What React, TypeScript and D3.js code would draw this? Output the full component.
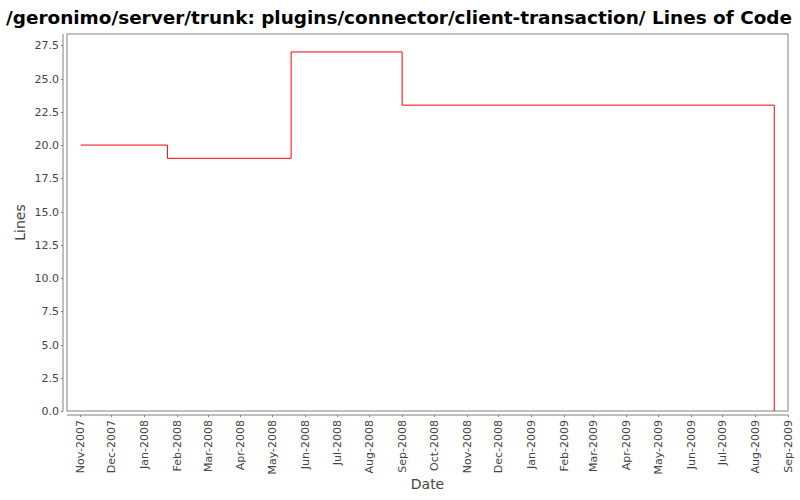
import React from 'react'
import * as d3 from 'd3'

// step points: date the value starts, lines of code
const stepDates = ['2007-11-02', '2008-01-23', '2008-05-19', '2008-09-01', '2009-08-19']
const stepValues = [20, 19, 27, 23, 0]
const yTicks = [0, 2.5, 5, 7.5, 10, 12.5, 15, 17.5, 20, 22.5, 25, 27.5]

const title = '/geronimo/server/trunk: plugins/connector/client-transaction/ Lines of Code'

const W = 800
const H = 500
const margin = { left: 67, top: 34, right: 12, bottom: 89 }

const App: React.FC = () => {
  const parse = d3.timeParse('%Y-%m-%d')
  const dates = stepDates.map(d => parse(d) as Date)
  const data = dates.map((d, i) => ({ date: d, value: stepValues[i] }))

  const x = d3.scaleTime()
    .domain([parse('2007-10-20') as Date, parse('2009-09-01') as Date])
    .range([margin.left, W - margin.right])
  const y = d3.scaleLinear()
    .domain([0, 28.35])
    .range([H - margin.bottom, margin.top])

  const line = d3.line<{ date: Date; value: number }>()
    .x(d => x(d.date))
    .y(d => y(d.value))
    .curve(d3.curveStepAfter)

  const months = d3.timeMonth.range(parse('2007-11-01') as Date, parse('2009-09-02') as Date)
  const fmt = d3.timeFormat('%b-%Y')

  const x0 = margin.left
  const x1 = W - margin.right
  const y0 = H - margin.bottom
  const y1 = margin.top
  const axisColor = '#808080'
  const font = '"DejaVu Sans", sans-serif'

  return (
    <svg width={W} height={H} style={{ position: 'absolute', left: 0, top: 0, background: '#fff' }}>
      <text x={6} y={24} fontFamily={font} fontWeight="bold" fontSize={18.4} fill="#000"
        textLength={786} lengthAdjust="spacingAndGlyphs">{title}</text>

      <rect x={x0} y={y1} width={x1 - x0} height={y0 - y1} fill="#fff" stroke={axisColor} strokeWidth={1} />

      {/* y axis */}
      <line x1={x0 - 4} x2={x0 - 4} y1={y1} y2={y0} stroke={axisColor} />
      {yTicks.map(t => (
        <g key={t}>
          <line x1={x0 - 6} x2={x0 - 4} y1={Math.round(y(t)) + 0.5} y2={Math.round(y(t)) + 0.5} stroke={axisColor} />
          <text x={x0 - 8} y={y(t) + 4} textAnchor="end" fontFamily={font} fontSize={11} fill="#444">{t.toFixed(1)}</text>
        </g>
      ))}
      <text transform={`translate(25,${(y0 + y1) / 2}) rotate(-90)`} textAnchor="middle"
        fontFamily={font} fontSize={14} fill="#444">Lines</text>

      {/* x axis */}
      <line x1={x0} x2={x1} y1={y0 + 4} y2={y0 + 4} stroke={axisColor} />
      {months.map(m => (
        <g key={m.getTime()}>
          <line x1={Math.round(x(m)) + 0.5} x2={Math.round(x(m)) + 0.5} y1={y0 + 4} y2={y0 + 6} stroke={axisColor} />
          <text transform={`translate(${x(m) + 4},${y0 + 9}) rotate(-90)`} textAnchor="end"
            fontFamily={font} fontSize={11} fill="#444">{fmt(m)}</text>
        </g>
      ))}
      <text x={(x0 + x1) / 2} y={489} textAnchor="middle" fontFamily={font} fontSize={14} fill="#444">Date</text>

      <path d={line(data) ?? ''} fill="none" stroke="#ff0000" strokeWidth={1} />
    </svg>
  )
}

export default App
